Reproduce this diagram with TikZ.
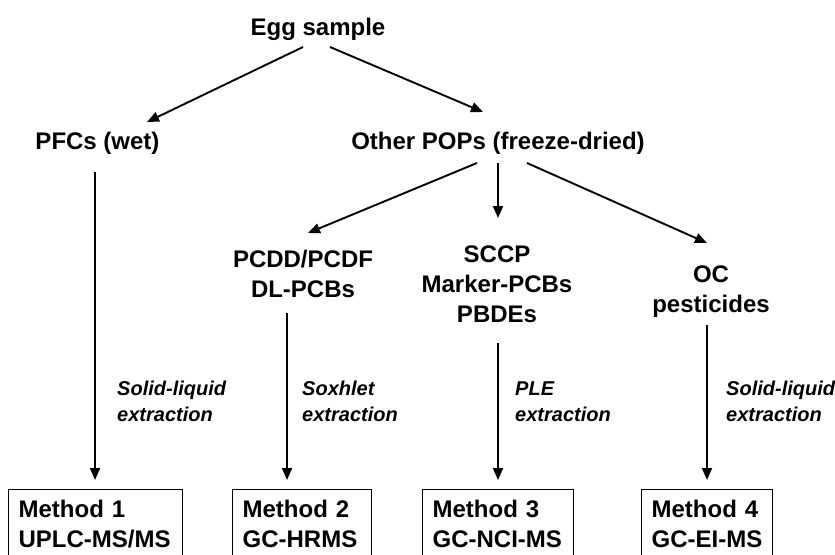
\documentclass[tikz,border=0pt]{standalone}
\usepackage{fontspec}
\setmainfont{Liberation Sans}
\usetikzlibrary{arrows.meta,calc}
\begin{document}
\begin{tikzpicture}[x=1pt,y=-1pt,
  lbl/.style={inner sep=0pt,font=\fontsize{24}{30}\selectfont\bfseries,align=center,anchor=base},
  ext/.style={inner sep=0pt,font=\fontsize{20}{26}\selectfont\bfseries\itshape,align=left,anchor=base west},
  mbox/.style={draw,line width=1.3pt,anchor=north west,inner xsep=10pt,inner ysep=10pt,
     font=\fontsize{24}{30}\selectfont\bfseries,align=left},
  arr/.style={line width=1.9pt,-{Triangle[length=12pt,width=10pt]}}]
\useasboundingbox (0,0) rectangle (835,554);
\fill[white] (0,0) rectangle (835,554);
% nodes (multi-line nodes: base = last line baseline)
\node[lbl] (egg) at (318,35) {Egg sample};
\node[lbl] (pfc) at (97.5,149) {PFCs (wet)};
\node[lbl] (other) at (498,149) {Other POPs (freeze-dried)};
\node[lbl] (pcdd) at (303,297) {PCDD/PCDF\\DL-PCBs};
\node[lbl] (sccp) at (497,322) {SCCP\\Marker-PCBs\\PBDEs};
\node[lbl] (oc) at (711,312) {OC\\pesticides};
\node[ext] (lab1) at (117,421) {Solid-liquid\\extraction};
\node[ext] (lab2) at (302,421) {Soxhlet\\extraction};
\node[ext] (lab3) at (515,421) {PLE\\extraction};
\node[ext] (lab4) at (726,421) {Solid-liquid\\extraction};
\node[mbox,text width=154pt] (m1) at (8,489) {Method 1\\UPLC-MS/MS};
\node[mbox,text width=119pt] (m2) at (232,489) {Method 2\\GC-HRMS};
\node[mbox,text width=131pt] (m3) at (422,489) {Method 3\\GC-NCI-MS};
\node[mbox,text width=111pt] (m4) at (641,489) {Method 4\\GC-EI-MS};
% connectors
\draw[arr] ($(egg.base)+(-15,12)$) -- ($(pfc.base)+(49.5,-27)$);
\draw[arr] ($(egg.base)+(12,12)$) -- ($(other.base)+(-15,-37)$);
\draw[arr] ($(other.base)+(-21,14)$) -- ($(pcdd.base)+(5,-64)$);
\draw[arr] ($(other.base)+(0,14)$) -- ($(sccp.base)+(1,-104)$);
\draw[arr] ($(other.base)+(29,14)$) -- ($(oc.base)+(-4,-69)$);
\draw[arr] ($(pfc.base)+(-2.5,23)$) -- ($(m1.north west)+(87,-9)$);
\draw[arr] ($(pcdd.base)+(-16,16)$) -- ($(m2.north west)+(55,-9)$);
\draw[arr] ($(sccp.base)+(1,21)$) -- ($(m3.north west)+(76,-9)$);
\draw[arr] ($(oc.base)+(-4,13)$) -- ($(m4.north west)+(66,-9)$);
\end{tikzpicture}
\end{document}
